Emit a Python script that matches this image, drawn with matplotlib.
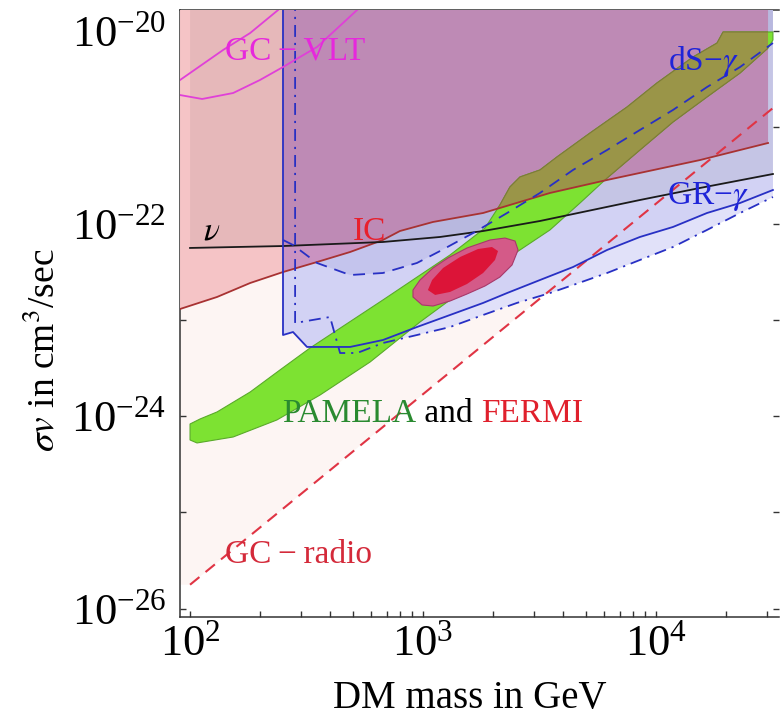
import numpy as np
import matplotlib
matplotlib.use("Agg")
import matplotlib.pyplot as plt
from matplotlib.patches import Polygon
from matplotlib.ticker import FixedLocator, LogLocator, NullFormatter

plt.rcParams['font.family'] = ['Liberation Serif', 'DejaVu Serif']
plt.rcParams['mathtext.fontset'] = 'stix'

# all curves are given as log10(M / GeV) and log10(sigma v / cm^3 s^-1)

# GC radio bound (dashed red)
radio_logm = [2.0, 4.502]
radio_logsv = [-25.75, -20.80]

# inverse Compton bound
ic_logm = [1.957, 2.116, 2.258, 2.399, 2.545, 2.687, 2.828, 2.901, 3.043, 3.258, 3.545, 3.790, 4.189, 4.481]
ic_logsv = [-22.887, -22.762, -22.617, -22.503, -22.399, -22.295, -22.170, -22.077, -21.983, -21.890,
            -21.682, -21.547, -21.340, -21.163]

# neutrinos from the GC
nu_logm = [2.000, 2.399, 2.828, 3.073, 3.258, 3.502, 3.931, 4.189, 4.502]
nu_logsv = [-22.253, -22.233, -22.191, -22.139, -22.077, -21.973, -21.755, -21.630, -21.485]

# gamma bounds: solid, dashed and dot-dashed profiles
gam_solid_logm = [2.399, 2.399, 2.442, 2.502, 2.687, 2.828, 2.974, 3.116, 3.258, 3.361, 3.502, 3.644,
                  3.790, 3.931, 4.073, 4.219, 4.361, 4.502]
gam_solid_logsv = [-19.5, -23.157, -23.126, -23.281, -23.281, -23.209, -23.074, -22.949, -22.824, -22.721,
                   -22.586, -22.451, -22.274, -22.139, -22.035, -21.890, -21.786, -21.651]
gam_dash_logm = [2.399, 2.442, 2.545, 2.687, 2.828, 2.974, 3.073, 3.215, 3.361, 3.502, 3.644, 3.790,
                 3.931, 4.073, 4.219, 4.361, 4.502]
gam_dash_logsv = [-22.170, -22.222, -22.409, -22.534, -22.513, -22.409, -22.285, -22.098, -21.890, -21.682,
                  -21.443, -21.236, -21.028, -20.820, -20.582, -20.374, -20.125]
gam_dd_logm = [2.451, 2.451, 2.601, 2.644, 2.717, 2.828, 2.974, 3.116, 3.258, 3.403, 3.545, 3.644, 3.790,
               3.931, 4.073, 4.219, 4.361, 4.502]
gam_dd_logsv = [-19.5, -23.032, -22.970, -23.344, -23.344, -23.240, -23.157, -23.074, -22.949, -22.824,
                -22.721, -22.638, -22.513, -22.378, -22.243, -22.066, -21.890, -21.724]

# GC-VLT bounds
vlt_a_logm = [1.957, 2.142, 2.258, 2.378]
vlt_a_logsv = [-20.509, -20.197, -20.021, -19.782]
vlt_b_logm = [1.957, 2.052, 2.185, 2.300, 2.399, 2.545, 2.717]
vlt_b_logsv = [-20.665, -20.706, -20.644, -20.509, -20.374, -20.166, -19.782]

# PAMELA region: upper edge (left to right), lower edge (right to left)
pam_up_logm = [2.000, 2.043, 2.116, 2.258, 2.386, 2.515, 2.828, 3.116, 3.266, 3.330, 3.373, 3.416, 3.502,
               3.575, 3.717, 3.876, 4.004, 4.159, 4.262, 4.288, 4.502]
pam_up_logsv = [-24.081, -24.029, -23.956, -23.749, -23.520, -23.292, -22.793, -22.326, -22.046, -21.807,
                -21.620, -21.516, -21.443, -21.308, -21.059, -20.789, -20.540, -20.270, -20.125, -20.010,
                -20.010]
pam_lo_logm = [4.502, 4.481, 4.361, 4.219, 4.073, 3.931, 3.790, 3.674, 3.545, 3.403, 3.258, 3.116, 2.987,
               2.773, 2.558, 2.373, 2.185, 2.030, 2.000]
pam_lo_logsv = [-20.093, -20.177, -20.436, -20.685, -20.945, -21.236, -21.527, -21.786, -22.066, -22.295,
                -22.503, -22.793, -23.022, -23.437, -23.780, -24.039, -24.216, -24.278, -24.247]

# PAMELA + FERMI fit: outer and inner contours
fermi_out_logm = [2.957, 2.996, 3.043, 3.116, 3.189, 3.266, 3.330, 3.382, 3.408, 3.395, 3.352, 3.288,
                  3.189, 3.107, 3.043, 2.987, 2.957]
fermi_out_logsv = [-22.762, -22.845, -22.856, -22.804, -22.731, -22.648, -22.555, -22.430, -22.274, -22.181,
                   -22.150, -22.170, -22.253, -22.357, -22.461, -22.586, -22.690]
fermi_in_logm = [3.021, 3.052, 3.116, 3.189, 3.258, 3.309, 3.322, 3.296, 3.236, 3.159, 3.086, 3.039]
fermi_in_logsv = [-22.690, -22.741, -22.710, -22.627, -22.513, -22.378, -22.285, -22.243, -22.264, -22.347,
                  -22.461, -22.586]

TOP = -19.5


def P(a):
    return 10 ** np.asarray(a, dtype=float)


def above(lm, ls):
    # polygon of everything above a curve, closed at the top of the plot
    lm = list(lm)
    ls = list(ls)
    return list(zip(P(lm + [lm[-1], lm[0]]), P(ls + [TOP, TOP])))


fig = plt.figure(figsize=(7.8, 7.2), dpi=100)
ax = fig.add_axes([0.2308, 0.1431, 0.7679, 0.8430])
ax.set_xscale('log')
ax.set_yscale('log')
ax.set_xlim(10 ** 1.957, 10 ** 4.528)
ax.set_ylim(10 ** -26.085, 10 ** -19.782)

# excluded regions
ax.add_patch(Polygon(above([1.957] + radio_logm, [radio_logsv[0]] + radio_logsv),
                     closed=True, fc='#fdf5f3', ec='none', zorder=1))
ax.add_patch(Polygon(above(gam_dd_logm, gam_dd_logsv), closed=True, fc='#e1e1f9', ec='none', zorder=2))
ax.add_patch(Polygon(above(gam_solid_logm, gam_solid_logsv), closed=True, fc='#d2d2f4', ec='none', zorder=3))
ax.add_patch(Polygon(above(gam_dash_logm, gam_dash_logsv), closed=True, fc='#c4c4ed', ec='none', zorder=4))
ax.add_patch(Polygon(above(ic_logm, ic_logsv), closed=True, fc='#f5c4c6', ec='none', zorder=5))
mauve = Polygon(above(ic_logm[3:], ic_logsv[3:]), closed=True, fc='#ca93c1', ec='none', zorder=6)
ax.add_patch(mauve)
ax.add_patch(Polygon(above(nu_logm, nu_logsv), closed=True, fc='black', alpha=0.06, ec='none', zorder=7))

# PAMELA band, olive where it sits inside the combined bounds
band = list(zip(P(pam_up_logm + pam_lo_logm), P(pam_up_logsv + pam_lo_logsv)))
ax.add_patch(Polygon(band, closed=True, fc='#7de232', ec='#5aaa2a', lw=0.8, zorder=8))
olive = Polygon(band, closed=True, fc='#9a9548', ec='#7f7a38', lw=0.8, zorder=9)
ax.add_patch(olive)
olive.set_clip_path(mauve)

ax.add_patch(Polygon(list(zip(P(fermi_out_logm), P(fermi_out_logsv))), closed=True,
                     fc='#d45a88', ec='#a8386a', lw=0.8, zorder=10))
ax.add_patch(Polygon(list(zip(P(fermi_in_logm), P(fermi_in_logsv))), closed=True,
                     fc='#dc1438', ec='none', zorder=11))

# boundary lines
blue = '#2830c4'
ax.plot(P(radio_logm), P(radio_logsv), color='#e03444', lw=1.5, ls=(0, (5.8, 3.8)), zorder=12)
ax.plot(P(ic_logm), P(ic_logsv), color='#a83232', lw=1.3, zorder=12)
ax.plot(P(nu_logm), P(nu_logsv), color='#1a1a1a', lw=1.3, zorder=12)
ax.plot(P(gam_solid_logm), P(gam_solid_logsv), color=blue, lw=1.3, zorder=12)
ax.plot(P(gam_dash_logm), P(gam_dash_logsv), color=blue, lw=1.3, ls=(0, (6.6, 4.4)), zorder=12)
ax.plot(P(gam_dd_logm), P(gam_dd_logsv), color=blue, lw=1.3, ls=(0, (6.6, 3.3, 1.2, 3.3)), zorder=12)
ax.plot(P(vlt_a_logm), P(vlt_a_logsv), color='#e040d8', lw=1.3, zorder=12)
ax.plot(P(vlt_b_logm), P(vlt_b_logsv), color='#e040d8', lw=1.3, zorder=12)

# labels
fs = 24
ax.text(10 ** 2.150, 10 ** -20.301, 'GC\u2009−\u2009VLT', color='#e628dc', fontsize=fs, zorder=13)
ax.text(10 ** 4.052, 10 ** -20.405, r'dS−$\gamma$', color='#1f24d8', fontsize=fs, zorder=13)
ax.text(10 ** 4.047, 10 ** -21.796, r'GR−$\gamma$', color='#1f24d8', fontsize=fs, zorder=13)
ax.text(10 ** 2.700, 10 ** -22.170, 'IC', color='#e8202c', fontsize=fs, zorder=13)
ax.text(10 ** 2.056, 10 ** -22.170, r'$\nu$', color='black', fontsize=fs, zorder=13)
ax.text(10 ** 2.150, 10 ** -25.524, 'GC\u2009−\u2009radio', color='#d42a3a', fontsize=fs, zorder=13)
t1 = ax.text(10 ** 2.395, 10 ** -24.060, 'PAMELA', color='#2a8a30', fontsize=fs, zorder=13)
t2 = ax.annotate(' and ', xy=(1, 0), xycoords=t1, va='bottom', color='black', fontsize=fs, zorder=13)
ax.annotate('FERMI', xy=(1, 0), xycoords=t2, va='bottom', color='#e0202c', fontsize=fs, zorder=13)

# axes
ax.xaxis.set_major_locator(FixedLocator([1e2, 1e3, 1e4]))
ax.xaxis.set_minor_locator(LogLocator(base=10, subs=np.arange(2, 10)))
ax.xaxis.set_minor_formatter(NullFormatter())
ax.yaxis.set_major_locator(FixedLocator([1e-26, 1e-24, 1e-22, 1e-20]))
ax.yaxis.set_minor_locator(FixedLocator([1e-25, 1e-23, 1e-21]))
ax.yaxis.set_minor_formatter(NullFormatter())
ax.tick_params(which='both', direction='in', length=4, width=1, color='#333333',
               top=True, right=True)
ax.tick_params(axis='x', which='major', labelsize=32, pad=5)
ax.tick_params(axis='y', which='major', labelsize=32, pad=10)
for side in ['left', 'bottom', 'top']:
    ax.spines[side].set_color('#333333')
    ax.spines[side].set_linewidth(1.1)
ax.spines['right'].set_visible(False)

ax.set_xlabel('DM mass in GeV', fontsize=28)
ax.set_ylabel(r'$\sigma v$ in cm$^3$/sec', fontsize=27)
ax.xaxis.set_label_coords(0.484, -0.104)
ax.yaxis.set_label_coords(-0.197, 0.44)

fig.savefig('out.png', dpi=100)
